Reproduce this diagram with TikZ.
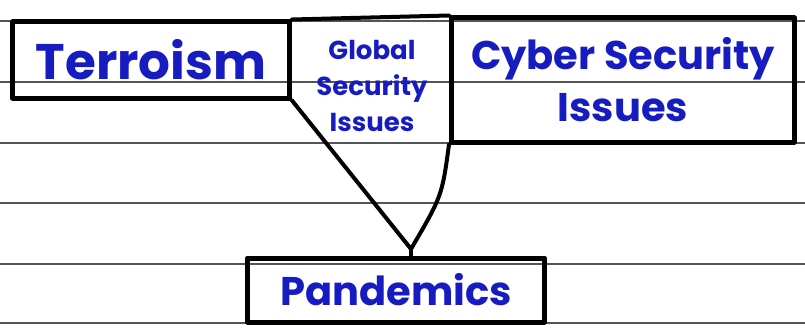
\documentclass[tikz,border=0pt]{standalone}
\usepackage{fontspec}
\setmainfont{Poppins}
\definecolor{ink}{RGB}{22,28,192}
\definecolor{rulegray}{RGB}{85,85,85}

\tikzset{
  penbox/.style={rectangle, draw, line width=5pt, line join=round, inner sep=0pt, text=ink, align=center},
  penline/.style={line width=4pt, line join=round, line cap=round}
}

\begin{document}
\begin{tikzpicture}[x=1pt,y=-1pt]
\useasboundingbox (0,0) rectangle (805,329);

% ruled paper
\foreach \y in {21,82,143,203,264,323}
  \draw[rulegray, line width=1.5pt] (0,\y) -- (805,\y);

\node[penbox, minimum width=277pt, minimum height=76pt, font=\fontsize{50}{54}\selectfont\bfseries] (terror) at (151,60) {Terroism};
\node[penbox, minimum width=343pt, minimum height=124pt, font=\fontsize{40}{52}\selectfont\bfseries] (cyber) at (623,80) {Cyber Security\\Issues};
\node[penbox, minimum width=297pt, minimum height=64pt, font=\fontsize{40}{48}\selectfont\bfseries] (pand) at (396,290) {Pandemics};
\node[text=ink, align=center, inner sep=0pt, font=\fontsize{26}{36}\selectfont\bfseries] (glob) at (372,86) {Global\\Security\\Issues};

\coordinate (apex) at (411,249);

\draw[penline] (terror.north east) -- (cyber.north west);
\draw[penline] (terror.south east) -- (apex) .. controls (442,196) .. (cyber.south west);
\draw[penline] (apex) -- (apex |- pand.north);

\end{tikzpicture}
\end{document}
